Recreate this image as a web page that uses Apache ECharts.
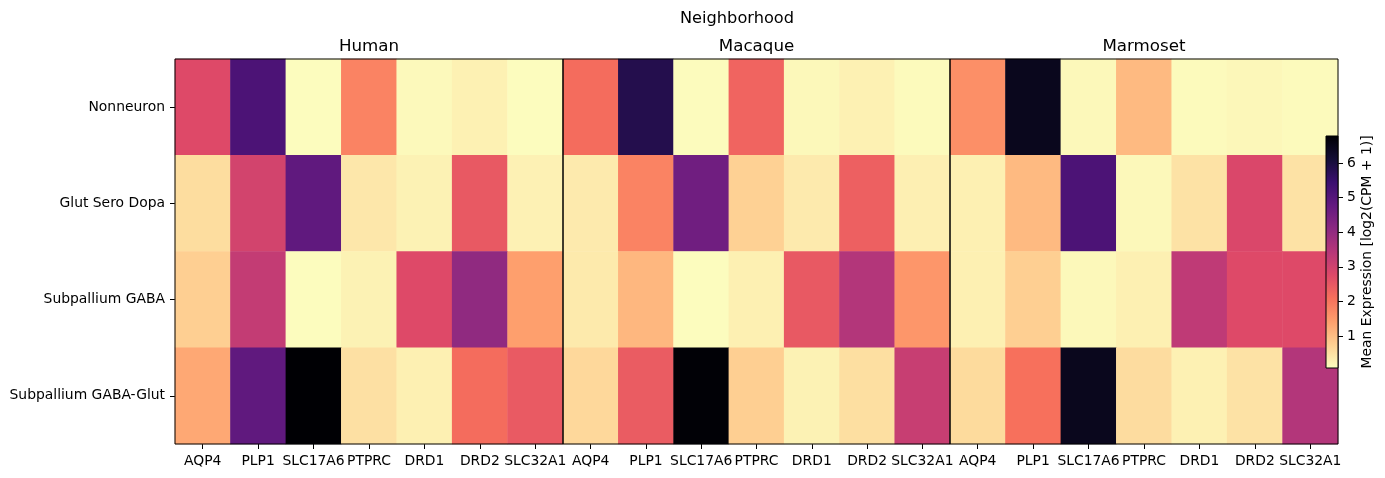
<!DOCTYPE html>
<html>
<head>
<meta charset="utf-8">
<script src="https://cdn.jsdelivr.net/npm/echarts@6/dist/echarts.min.js"></script>
<style>
html,body{margin:0;padding:0;background:#fff;}
#chart{width:1385px;height:478px;}
</style>
</head>
<body>
<div id="chart"></div>
<script>
var genes = ['AQP4', 'PLP1', 'SLC17A6', 'PTPRC', 'DRD1', 'DRD2', 'SLC32A1'];
var rows = ['Nonneuron', 'Glut Sero Dopa', 'Subpallium GABA', 'Subpallium GABA-Glut'];
var species = ['Human', 'Macaque', 'Marmoset'];
var human = [
  [2.76, 5.17, 0.10, 1.82, 0.14, 0.26, 0.10],
  [0.55, 2.96, 4.84, 0.40, 0.24, 2.49, 0.25],
  [0.75, 3.23, 0.10, 0.24, 2.76, 4.03, 1.42],
  [1.29, 4.84, 6.78, 0.50, 0.27, 2.16, 2.46]
];
var macaque = [
  [2.16, 5.84, 0.11, 2.29, 0.16, 0.26, 0.12],
  [0.35, 1.82, 4.57, 0.72, 0.35, 2.36, 0.28],
  [0.36, 1.09, 0.09, 0.27, 2.49, 3.50, 1.55],
  [0.62, 2.43, 6.75, 0.75, 0.24, 0.52, 3.16]
];
var marmoset = [
  [1.65, 6.45, 0.15, 1.05, 0.12, 0.17, 0.13],
  [0.27, 1.05, 5.17, 0.15, 0.47, 2.83, 0.47],
  [0.27, 0.75, 0.16, 0.27, 3.30, 2.76, 2.76],
  [0.58, 2.09, 6.45, 0.56, 0.26, 0.47, 3.50]
];
var colorbarTicks = [1, 2, 3, 4, 5, 6];
var vmin = 0.08, vmax = 6.78;

var magma = ['#000004', '#140e36', '#3b0f70', '#641a80', '#8c2981', '#b73779',
             '#de4968', '#f7705c', '#fe9f6d', '#fecf92', '#fcfdbf'];
var magmaR = magma.slice().reverse();

var FONT = 'DejaVu Sans';
var matrices = [human, macaque, marmoset];
var gridLefts = [175, 563, 950];
var gridWidths = [388, 387, 388];

var grids = [], xAxes = [], yAxes = [], series = [];
for (var i = 0; i < 3; i++) {
  grids.push({left: gridLefts[i], width: gridWidths[i], top: 59, height: 385,
    show: true, borderColor: '#000', borderWidth: 1, backgroundColor: 'transparent', z: 10});
}
grids.push({left: 1326, width: 12, top: 136, height: 232,
  show: true, borderColor: '#000', borderWidth: 1, backgroundColor: 'transparent', z: 20});

for (var i = 0; i < 3; i++) {
  xAxes.push({type: 'category', gridIndex: i, data: genes, position: 'bottom',
    axisLine: {show: false},
    axisTick: {show: true, alignWithLabel: true, length: 5, lineStyle: {color: '#000', width: 1}},
    axisLabel: {color: '#000', fontFamily: FONT, fontSize: 13.9, margin: 10, interval: 0},
    splitLine: {show: false}});
  yAxes.push({type: 'category', gridIndex: i, data: rows, inverse: true,
    axisLine: {show: false},
    axisTick: {show: i === 0, alignWithLabel: true, length: 5, lineStyle: {color: '#000', width: 1}},
    axisLabel: {show: i === 0, color: '#000', fontFamily: FONT, fontSize: 13.9, margin: 10},
    splitLine: {show: false}});
}
for (var i = 0; i < 3; i++) {
  xAxes.push({type: 'category', gridIndex: i, data: genes, position: 'top',
    axisLine: {show: false}, axisTick: {show: false}, axisLabel: {show: false},
    name: species[i], nameLocation: 'middle', nameGap: 4,
    nameTextStyle: {color: '#000', fontFamily: FONT, fontSize: 16.7}});
}
xAxes.push({type: 'category', gridIndex: 3, data: ['cb'], show: false});
yAxes.push({type: 'value', gridIndex: 3, min: vmin, max: vmax, position: 'right',
  axisLine: {show: false},
  axisTick: {show: true, length: 5, customValues: colorbarTicks, lineStyle: {color: '#000', width: 1}},
  axisLabel: {color: '#000', fontFamily: FONT, fontSize: 13.9, margin: 9, customValues: colorbarTicks},
  splitLine: {show: false},
  name: 'Mean Expression [log2(CPM + 1)]', nameLocation: 'middle', nameRotate: 90, nameGap: 22,
  nameTextStyle: {color: '#000', fontFamily: FONT, fontSize: 13.9}});

for (var i = 0; i < 3; i++) {
  var d = [];
  for (var r = 0; r < rows.length; r++) {
    for (var c = 0; c < genes.length; c++) {
      d.push([c, r, matrices[i][r][c]]);
    }
  }
  series.push({type: 'heatmap', xAxisIndex: i, yAxisIndex: i, data: d,
    itemStyle: {borderWidth: 0}, emphasis: {disabled: true}, silent: true, progressive: 0});
}

var stops = magma.map(function (c, k) { return {offset: k / (magma.length - 1), color: c}; });
series.push({type: 'custom', xAxisIndex: 6, yAxisIndex: 3, z: 15, silent: true,
  data: [[0, vmin, vmax]],
  renderItem: function (params, api) {
    var top = api.coord([api.value(0), api.value(2)]);
    var bot = api.coord([api.value(0), api.value(1)]);
    var cs = params.coordSys;
    return {type: 'rect',
      shape: {x: cs.x, y: top[1], width: cs.width, height: bot[1] - top[1]},
      style: {fill: new echarts.graphic.LinearGradient(0, 0, 0, 1, stops)}};
  }});

var chart = echarts.init(document.getElementById('chart'), null, {renderer: 'canvas'});
chart.setOption({
  animation: false,
  backgroundColor: '#fff',
  title: [{text: 'Neighborhood', left: 680, top: 11, padding: 0,
    textStyle: {color: '#000', fontFamily: FONT, fontSize: 16.2, fontWeight: 'normal'}}],
  grid: grids,
  xAxis: xAxes,
  yAxis: yAxes,
  visualMap: {type: 'continuous', show: false, min: vmin, max: vmax, seriesIndex: [0, 1, 2],
    inRange: {color: magmaR}},
  series: series
});
</script>
</body>
</html>
